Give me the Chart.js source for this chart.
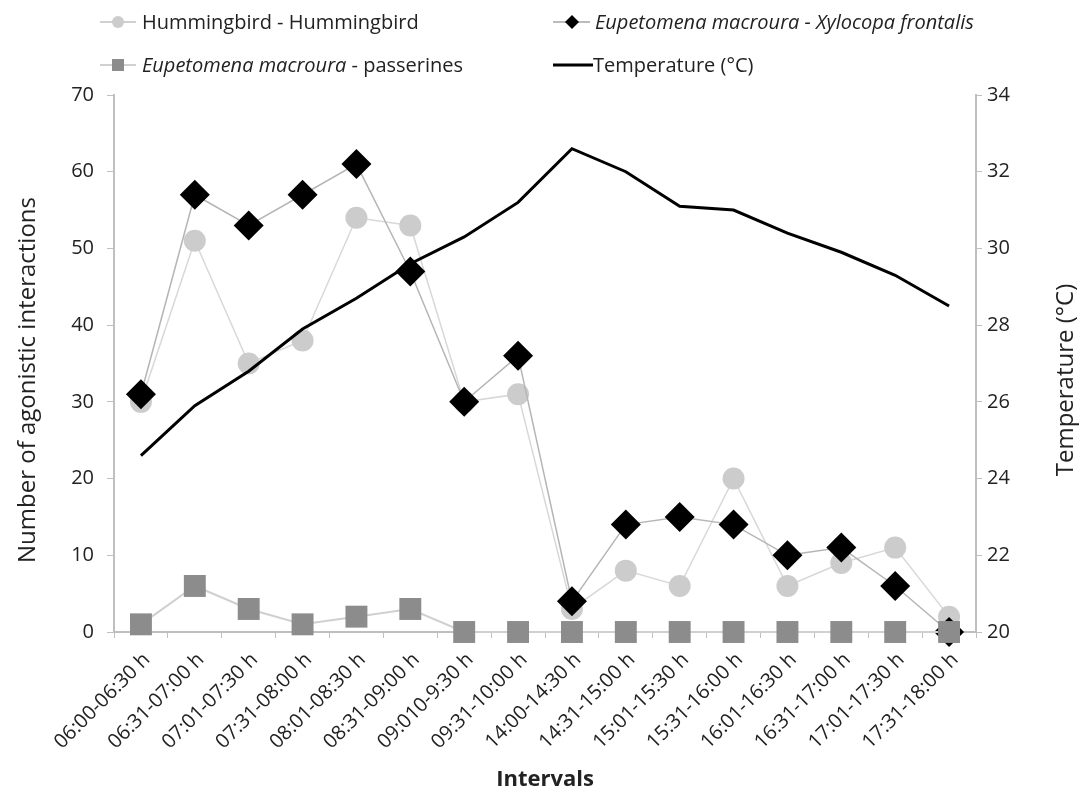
<!DOCTYPE html>
<html>
<head>
<meta charset="utf-8">
<script src="https://cdn.jsdelivr.net/npm/chart.js@4.4.0/dist/chart.umd.min.js"></script>
<style>
  html, body { margin: 0; padding: 0; background: #fff; }
  #wrap { position: relative; width: 1082px; height: 793px; }
  canvas { position: absolute; left: 0; top: 0; }
  .lg { position: absolute; font-family: "Open Sans", sans-serif; font-size: 20px; color: #222; white-space: nowrap; line-height: 24px; }
  .lg i { font-style: italic; }
  .mk { position: absolute; }
</style>
</head>
<body>
<div id="wrap">
  <canvas id="c" width="1082" height="793"></canvas>
  <svg class="mk" style="left:99px;top:10px" width="38" height="24">
    <line x1="1" y1="12" x2="37" y2="12" stroke="#d0d0d0" stroke-width="2"/>
    <circle cx="19" cy="12" r="6" fill="#cccccc"/>
  </svg>
  <div class="lg" style="left:142px;top:10px">Hummingbird - Hummingbird</div>
  <svg class="mk" style="left:553px;top:10px" width="38" height="24">
    <line x1="0" y1="12" x2="37" y2="12" stroke="#bbbbbb" stroke-width="2"/>
    <polygon points="19,5 26,12 19,19 12,12" fill="#000"/>
  </svg>
  <div class="lg" style="left:595px;top:10px"><i>Eupetomena macroura - Xylocopa frontalis</i></div>
  <svg class="mk" style="left:99px;top:53px" width="38" height="24">
    <line x1="1" y1="12" x2="37" y2="12" stroke="#d0d0d0" stroke-width="2"/>
    <rect x="13" y="6" width="12" height="12" fill="#8c8c8c"/>
  </svg>
  <div class="lg" style="left:142px;top:53px"><i>Eupetomena macroura</i> - passerines</div>
  <svg class="mk" style="left:553px;top:53px" width="40" height="24">
    <line x1="0" y1="12" x2="40" y2="12" stroke="#000" stroke-width="3"/>
  </svg>
  <div class="lg" style="left:593px;top:53px">Temperature (°C)</div>
</div>
<script>
const categories = ["06:00-06:30 h","06:31-07:00 h","07:01-07:30 h","07:31-08:00 h","08:01-08:30 h","08:31-09:00 h","09:010-9:30 h","09:31-10:00 h","14:00-14:30 h","14:31-15:00 h","15:01-15:30 h","15:31-16:00 h","16:01-16:30 h","16:31-17:00 h","17:01-17:30 h","17:31-18:00 h"];
const hummingbird = [30,51,35,38,54,53,30,31,3,8,6,20,6,9,11,2];
const xylocopa = [31,57,53,57,61,47,30,36,4,14,15,14,10,11,6,0];
const passerines = [1,6,3,1,2,3,0,0,0,0,0,0,0,0,0,0];
const temperature = [24.6,25.9,26.8,27.9,28.7,29.6,30.3,31.2,32.6,32.0,31.1,31.0,30.4,29.9,29.3,28.5];
const leftTicks = [0,10,20,30,40,50,60,70];
const rightTicks = [20,22,24,26,28,30,32,34];
const leftTitle = 'Number of agonistic interactions';
const rightTitle = 'Temperature (°C)';

const FONT = "'Open Sans', sans-serif";
const axisColor = '#bfbfbf';

const yTitles = {
  id: 'yTitles',
  afterDraw(chart) {
    const ctx = chart.ctx;
    ctx.save();
    ctx.fillStyle = '#222';
    ctx.font = "24px 'Open Sans', sans-serif";
    ctx.textAlign = 'center';
    ctx.textBaseline = 'middle';
    const cy = 380;
    ctx.translate(28, cy); ctx.rotate(-Math.PI / 2); ctx.fillText(leftTitle, 0, 0);
    ctx.setTransform(1, 0, 0, 1, 0, 0);
    ctx.translate(1066, cy); ctx.rotate(-Math.PI / 2); ctx.fillText(rightTitle, 0, 0);
    ctx.restore();
  }
};

new Chart(document.getElementById('c'), {
  type: 'line',
  data: {
    labels: categories,
    datasets: [
      { label: 'Eupetomena macroura - passerines', data: passerines, yAxisID: 'y', order: 1,
        borderColor: '#d0d0d0', borderWidth: 2, pointStyle: 'rect', pointRadius: 15.5,
        pointBackgroundColor: '#8c8c8c', pointBorderWidth: 0, tension: 0 },
      { label: 'Eupetomena macroura - Xylocopa frontalis', data: xylocopa, yAxisID: 'y', order: 2,
        borderColor: '#b5b5b5', borderWidth: 1.5, pointStyle: 'rectRot', pointRadius: 15,
        pointBackgroundColor: '#000', pointBorderWidth: 0, tension: 0 },
      { label: 'Temperature (°C)', data: temperature, yAxisID: 'y1', order: 3,
        borderColor: '#000', borderWidth: 3, pointRadius: 0, tension: 0 },
      { label: 'Hummingbird - Hummingbird', data: hummingbird, yAxisID: 'y', order: 4,
        borderColor: '#d8d8d8', borderWidth: 1.5, pointStyle: 'circle', pointRadius: 11,
        pointBackgroundColor: '#cccccc', pointBorderWidth: 0, tension: 0 }
    ]
  },
  options: {
    responsive: false,
    animation: false,
    clip: false,
    layout: { padding: { top: 95, left: 0, right: 0, bottom: 0 } },
    plugins: { legend: { display: false }, tooltip: { enabled: false } },
    scales: {
      x: {
        offset: true,
        grid: { display: true, offset: true, drawOnChartArea: false, color: axisColor, tickLength: 6 },
        border: { color: axisColor, width: 2 },
        ticks: { color: '#222', font: { family: FONT, size: 20 }, minRotation: 45, maxRotation: 45, autoSkip: false, padding: 10, labelOffset: 6 },
        title: { display: true, text: 'Intervals', color: '#222', font: { family: FONT, size: 22, weight: 'bold' }, padding: { top: 0, bottom: 0 } },
        afterFit: s => { s.height = 161; }
      },
      y: {
        position: 'left', min: 0, max: 70,
        afterBuildTicks: s => { s.ticks = leftTicks.map(v => ({ value: v })); },
        grid: { drawOnChartArea: false, color: axisColor, tickLength: 7 },
        border: { color: axisColor, width: 2 },
        ticks: { color: '#222', font: { family: FONT, size: 20 }, padding: 13 },
        afterFit: s => { s.width = 114; }
      },
      y1: {
        position: 'right', min: 20, max: 34,
        afterBuildTicks: s => { s.ticks = rightTicks.map(v => ({ value: v })); },
        grid: { drawOnChartArea: false, color: axisColor, tickLength: 6 },
        border: { color: axisColor, width: 2 },
        ticks: { color: '#222', font: { family: FONT, size: 20 }, padding: 5 },
        afterFit: s => { s.width = 106; }
      }
    }
  },
  plugins: [yTitles]
});
</script>
</body>
</html>
